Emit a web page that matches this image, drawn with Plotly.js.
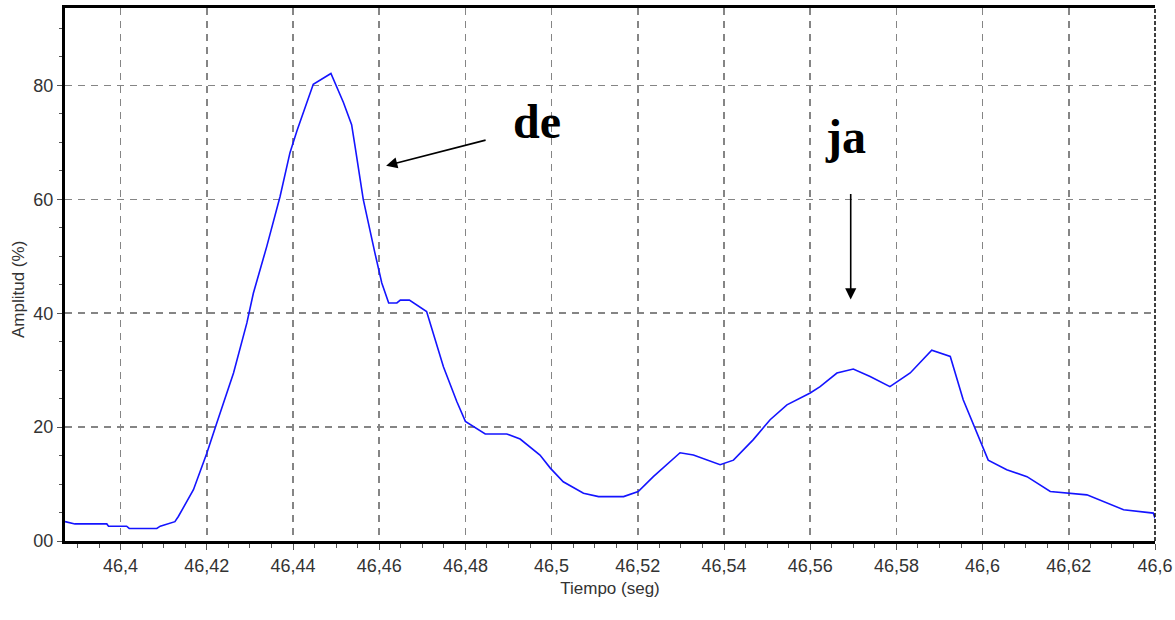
<!DOCTYPE html>
<html>
<head>
<meta charset="utf-8">
<script src="https://cdn.plot.ly/plotly-3.0.1.min.js"></script>
<style>
html,body{margin:0;padding:0;background:#fff;}
#chart{width:1175px;height:620px;}
</style>
</head>
<body>
<div id="chart"></div>
<script>
// Time (s) and amplitude (%)
const tiempo = [46.3871, 46.3894, 46.3968, 46.3972, 46.4014, 46.4020, 46.4084, 46.4092, 46.4126, 46.4134,
  46.4169, 46.4200, 46.4223, 46.4262, 46.4293, 46.4308, 46.4339, 46.4370, 46.4393, 46.4409,
  46.4447, 46.4488, 46.4517, 46.4536, 46.4544, 46.4563, 46.4590, 46.4606, 46.4622, 46.4641,
  46.4649, 46.4670, 46.4710, 46.4749, 46.4780, 46.4800, 46.4846, 46.4896, 46.4927, 46.4973,
  46.4997, 46.5027, 46.5074, 46.5109, 46.5167, 46.5201, 46.5236, 46.5298, 46.5329, 46.5391,
  46.5422, 46.5468, 46.5507, 46.5546, 46.5600, 46.5623, 46.5662, 46.5700, 46.5739, 46.5785,
  46.5832, 46.5882, 46.5925, 46.5955, 46.6013, 46.6056, 46.6103, 46.6157, 46.6242, 46.6327,
  46.6396, 46.6400];
const amplitud = [3.4, 3.0, 3.0, 2.6, 2.6, 2.2, 2.2, 2.6, 3.4, 4.3,
  9.0, 15.4, 20.7, 29.5, 38.3, 43.5, 51.7, 60.5, 68.2, 72.0,
  80.2, 82.1, 77.0, 73.1, 69.3, 60.0, 50.6, 45.3, 41.8, 41.8,
  42.3, 42.3, 40.3, 30.6, 24.5, 21.0, 18.8, 18.8, 17.9, 15.1,
  12.8, 10.4, 8.4, 7.8, 7.8, 8.7, 11.3, 15.5, 15.1, 13.4,
  14.2, 17.8, 21.3, 23.9, 26.0, 27.1, 29.5, 30.2, 28.9, 27.1,
  29.5, 33.5, 32.4, 24.8, 14.2, 12.5, 11.3, 8.7, 8.1, 5.5,
  4.9, 4.0];

const xTickVals = [46.40, 46.42, 46.44, 46.46, 46.48, 46.50, 46.52, 46.54, 46.56, 46.58, 46.60, 46.62, 46.64];
const xTickText = ["46,4", "46,42", "46,44", "46,46", "46,48", "46,5", "46,52", "46,54", "46,56", "46,58", "46,6", "46,62", "46,6"];
const yTickVals = [0, 20, 40, 60, 80];
const yTickText = ["00", "20", "40", "60", "80"];

const xRange = [46.3871, 46.6400];
const yRange = [0, 93.6];

// labels with arrows: text, text position, arrow head, arrow tail offset (px)
const labelText = ["de", "ja"];
const labelX = [46.4966, 46.5683];
const labelY = [73.6, 71.0];
const arrowHeadX = [46.4616, 46.5694];
const arrowHeadY = [65.9, 42.4];
const arrowTailDX = [101, 0];
const arrowTailDY = [-26, -107];

const tickFont = {family: 'Arial, "Liberation Sans", sans-serif', size: 18, color: '#333333'};
const gridDash = '7px,6px';

const annotations = [];
for (let i = 0; i < labelText.length; i++) {
  annotations.push({
    x: labelX[i], y: labelY[i], xref: 'x', yref: 'y',
    text: '<b>' + labelText[i] + '</b>', showarrow: false,
    font: {family: '"Times New Roman", "Liberation Serif", serif', size: 48, color: '#000000'},
    xanchor: 'center', yanchor: 'middle'
  });
  annotations.push({
    x: arrowHeadX[i], y: arrowHeadY[i], xref: 'x', yref: 'y',
    text: '', showarrow: true, arrowhead: 2, arrowsize: 1.4, arrowwidth: 1.6,
    arrowcolor: '#000000', ax: arrowTailDX[i], ay: arrowTailDY[i], standoff: 0
  });
}
annotations.push({
  x: 18, y: 290, xref: 'paper', yref: 'paper', text: 'Amplitud (%)', showarrow: false,
  textangle: -90, font: {family: 'Arial, "Liberation Sans", sans-serif', size: 17, color: '#333333'},
  xanchor: 'center', yanchor: 'middle'
});

const layout = {
  width: 1175, height: 620,
  margin: {l: 65, r: 20, t: 8, b: 79, pad: 0},
  paper_bgcolor: '#ffffff', plot_bgcolor: '#ffffff',
  showlegend: false,
  xaxis: {
    range: xRange, tickvals: xTickVals, ticktext: xTickText, tickfont: tickFont,
    ticks: 'outside', ticklen: 6, tickwidth: 1, tickcolor: '#555555',
    showline: true, linewidth: 3, linecolor: '#000000', mirror: true,
    showgrid: true, gridcolor: '#858585', gridwidth: 1.6, griddash: gridDash,
    zeroline: false, ticklabeloverflow: 'allow',
    minor: {dtick: 0.005, tick0: 46.4, ticks: 'outside', ticklen: 4, tickwidth: 1, tickcolor: '#555555', showgrid: false},
    title: {text: 'Tiempo (seg)', font: {family: 'Arial, "Liberation Sans", sans-serif', size: 17, color: '#333333'}, standoff: 8}
  },
  yaxis: {
    range: yRange, tickvals: yTickVals, ticktext: yTickText, tickfont: tickFont,
    ticks: 'outside', ticklen: 5, tickwidth: 1, tickcolor: '#555555',
    showline: true, linewidth: 3, linecolor: '#000000', mirror: false,
    showgrid: true, gridcolor: '#858585', gridwidth: 1.6, griddash: gridDash,
    zeroline: false,
    minor: {dtick: 5, tick0: 0, ticks: 'outside', ticklen: 3, tickwidth: 1, tickcolor: '#555555', showgrid: false}
  },
  shapes: [{
    type: 'line', xref: 'paper', yref: 'paper', x0: 1, x1: 1, y0: 0, y1: 1,
    line: {color: '#000000', width: 1.5, dash: '4px,2px'}
  }],
  annotations: annotations
};
// convert the y-title annotation from pixels to paper coords
const pw = 1175 - 65 - 20, ph = 620 - 8 - 79;
const yt = annotations[annotations.length - 1];
yt.x = (yt.x - 65) / pw;
yt.y = 1 - (yt.y - 8) / ph;
yt.xanchor = 'center';

const trace = {
  x: tiempo, y: amplitud, type: 'scatter', mode: 'lines',
  line: {color: '#1414ff', width: 1.6}, hoverinfo: 'skip'
};

Plotly.newPlot('chart', [trace], layout, {staticPlot: true, displayModeBar: false});
</script>
</body>
</html>
